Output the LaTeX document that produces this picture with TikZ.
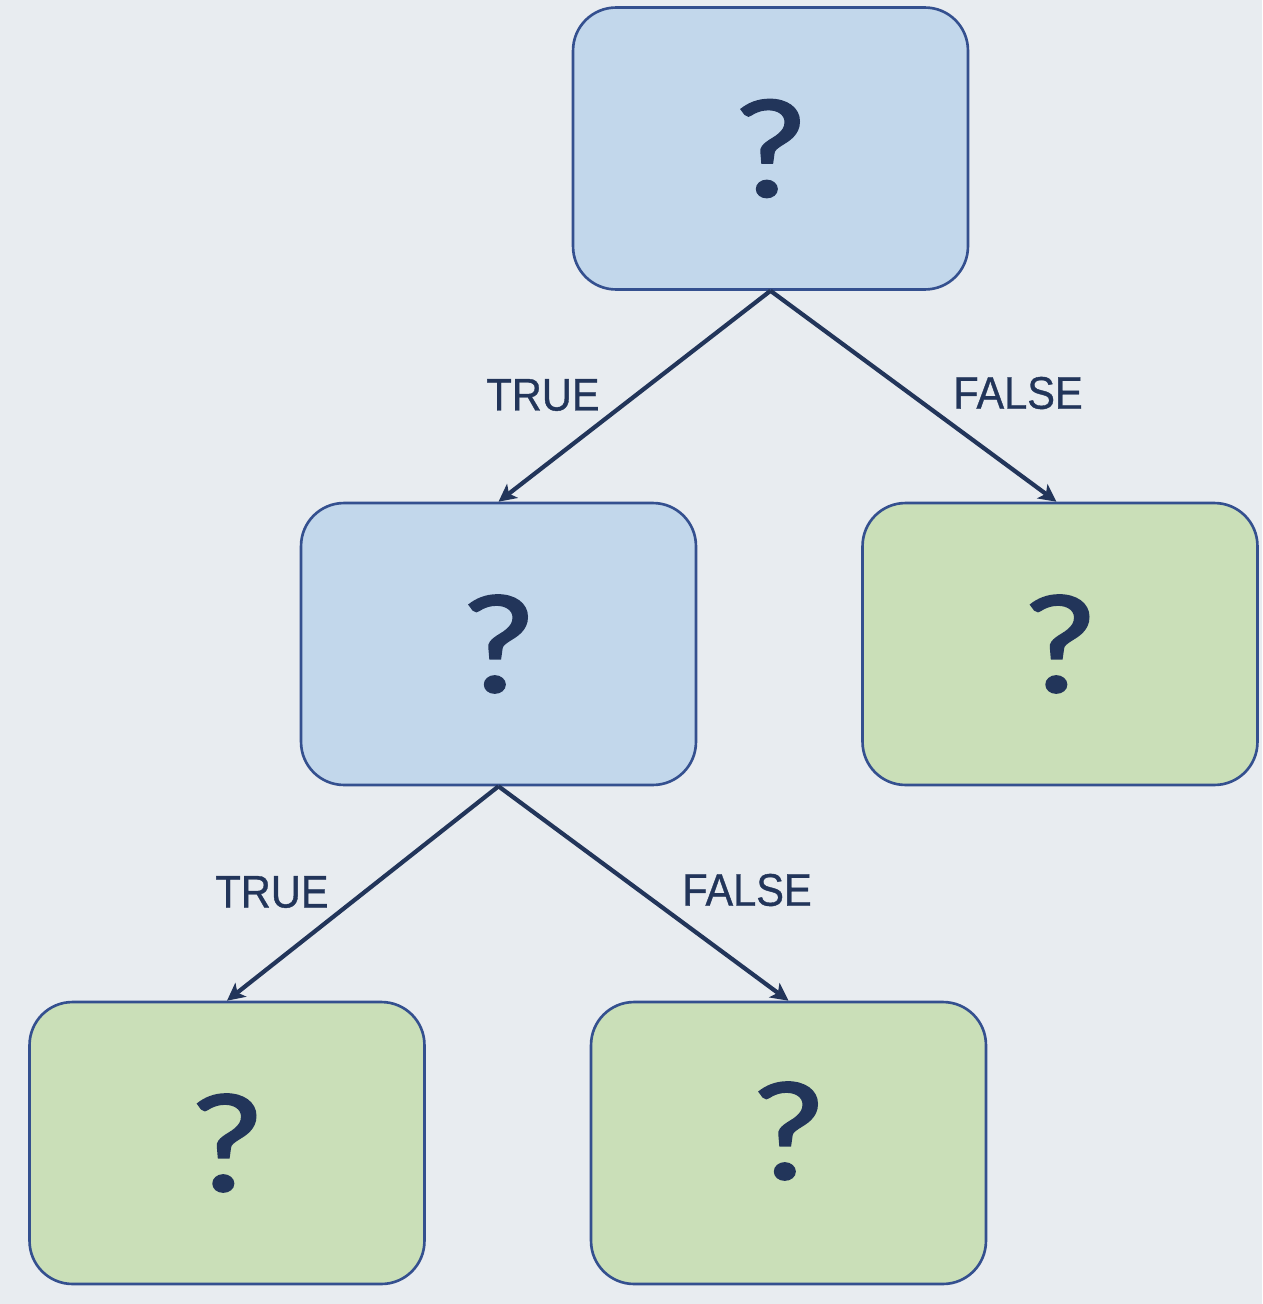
\documentclass[tikz,border=0pt]{standalone}
\usepackage{fontspec}
\setmainfont{Liberation Sans}
\newfontfamily\qfont{Lato}[FakeBold=1.5]
\newfontfamily\labelfont{Liberation Sans}[FakeBold=0.8]
\usetikzlibrary{arrows.meta}
\definecolor{bgcol}{HTML}{E8ECF0}
\definecolor{splitfill}{HTML}{C2D7EB}
\definecolor{leaffill}{HTML}{CADFB8}
\definecolor{boxline}{HTML}{34508F}
\definecolor{ink}{HTML}{22355A}
\newcommand{\qmark}{\scalebox{1.18}[1]{?}}
\tikzset{
  split/.style={draw=boxline, line width=1.5pt, fill=splitfill, rounded corners=0.86cm,
    minimum width=7.9cm, minimum height=5.64cm, inner sep=0pt, text=ink,
    font=\qfont\fontsize{76}{80}\selectfont},
  leaf/.style={split, fill=leaffill},
  branch/.style={draw=ink, line width=2.4pt, -{Stealth[length=10pt,width=10pt,inset=2.5pt]}},
  answer/.style={text=ink, font=\labelfont\fontsize{26}{28}\selectfont, xscale=0.91}
}
\begin{document}
\begin{tikzpicture}[x=0.02cm,y=-0.02cm]
        \fill[bgcol] (0,0) rectangle (1262,1304);
        \useasboundingbox (0,0) rectangle (1262,1304);

        % decision nodes
        \node[split] (root) at (770.5,148.5) {\qmark};
        \node[split] (inner) at (498.5,644) {\qmark};
        % leaves
        \node[leaf] (leafR) at (1060,644) {\qmark};
        \node[leaf] (leafLL) at (227,1143) {\qmark};
        \node[leaf, text depth=0.5cm] (leafLR) at (788.5,1143) {\qmark};

        \draw[branch] (root.south) -- (inner.north);
        \draw[branch] (root.south) -- ([xshift=-2]leafR.north);
        \draw[branch] (inner.south) -- (leafLL.north);
        \draw[branch] (inner.south) -- (leafLR.north);

        \node[answer] (t1) at (543,395) {TRUE};
        \node[answer] (f1) at (1018,393) {FALSE};
        \node[answer] (t2) at (272,892) {TRUE};
        \node[answer] (f2) at (747,890) {FALSE};
      \end{tikzpicture}
\end{document}
